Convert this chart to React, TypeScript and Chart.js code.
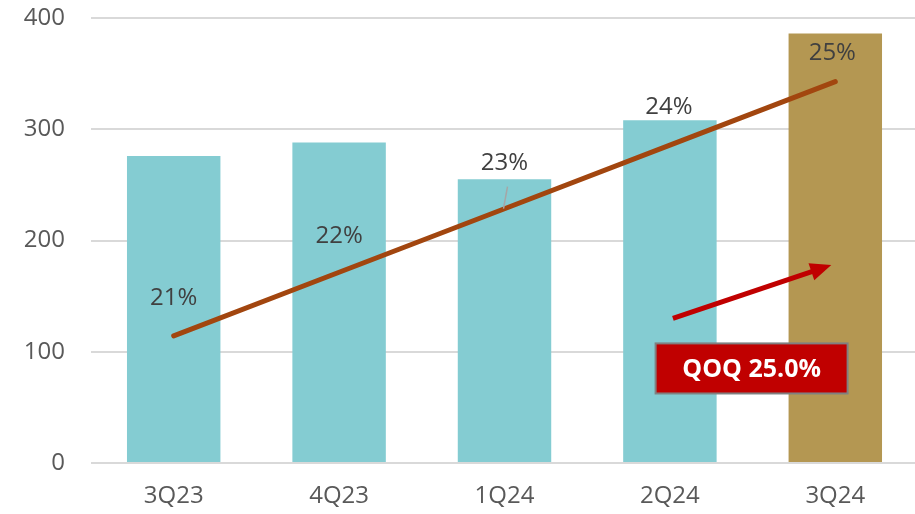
import React, { useEffect, useRef } from "react";
import { Chart, registerables } from "chart.js";

Chart.register(...registerables);

// ---- data ----
const categories = ["3Q23", "4Q23", "1Q24", "2Q24", "3Q24"];
const revenue = [276, 288, 255, 308, 386];
const marginPct = [21, 22, 23, 24, 25];
const pctLabels = ["21%", "22%", "23%", "24%", "25%"];
const yTickValues = [0, 100, 200, 300, 400];
const qoqText = "QOQ 25.0%";

// ---- style ----
const TEAL = "#84CCD2";
const GOLD = "#B49752";
const BROWN = "#A2460F";
const RED = "#C00000";
const FONT = "'Open Sans', 'Noto Sans', sans-serif";
const labelOffsets: [number, number][] = [
  [0, -38],
  [0, -36],
  [0, -46],
  [-1, -38],
  [-3, -28],
];

const overlayPlugin = {
  id: "overlay",
  afterDatasetsDraw(chart: any) {
    const { ctx, scales } = chart;
    const x = scales.x;
    const y = scales.y;
    const meta = chart.getDatasetMeta(1);
    ctx.save();

    // percent labels
    ctx.font = `24px ${FONT}`;
    ctx.fillStyle = "#404040";
    ctx.textAlign = "center";
    ctx.textBaseline = "middle";
    meta.data.forEach((pt: any, i: number) => {
      const [dx, dy] = labelOffsets[i];
      ctx.fillText(pctLabels[i], pt.x + dx, pt.y + dy);
    });

    // leader line for 1Q24 label
    const p2 = meta.data[2];
    ctx.strokeStyle = "#A6A6A6";
    ctx.lineWidth = 1.5;
    ctx.beginPath();
    ctx.moveTo(p2.x + 3, p2.y - 22);
    ctx.lineTo(p2.x - 1, p2.y);
    ctx.stroke();

    // arrow
    const x0 = x.getPixelForValue(3) + 3;
    const y0 = y.getPixelForValue(130);
    const x1 = x.getPixelForValue(4) - 4;
    const y1 = y.getPixelForValue(178);
    const ang = Math.atan2(y1 - y0, x1 - x0);
    const headLen = 21;
    const headHalf = 9;
    const bx = x1 - headLen * Math.cos(ang);
    const by = y1 - headLen * Math.sin(ang);
    ctx.strokeStyle = RED;
    ctx.lineWidth = 5;
    ctx.lineCap = "butt";
    ctx.beginPath();
    ctx.moveTo(x0, y0);
    ctx.lineTo(bx + 2 * Math.cos(ang), by + 2 * Math.sin(ang));
    ctx.stroke();
    ctx.fillStyle = RED;
    ctx.beginPath();
    ctx.moveTo(x1, y1);
    ctx.lineTo(bx + headHalf * Math.sin(ang), by - headHalf * Math.cos(ang));
    ctx.lineTo(bx - headHalf * Math.sin(ang), by + headHalf * Math.cos(ang));
    ctx.closePath();
    ctx.fill();

    // QOQ box
    const cx = (x.getPixelForValue(3) + x.getPixelForValue(4)) / 2 - 1;
    const top = y.getPixelForValue(107.5);
    const bottom = y.getPixelForValue(62.5);
    const w = 192;
    ctx.fillStyle = RED;
    ctx.fillRect(cx - w / 2, top, w, bottom - top);
    ctx.strokeStyle = "#808080";
    ctx.lineWidth = 2;
    ctx.strokeRect(cx - w / 2, top, w, bottom - top);
    ctx.fillStyle = "#FFFFFF";
    ctx.font = `bold 25px ${FONT}`;
    ctx.fillText(qoqText, cx, (top + bottom) / 2 + 1);

    ctx.restore();
  },
};

export default function App() {
  const ref = useRef<HTMLCanvasElement | null>(null);

  useEffect(() => {
    document.body.style.margin = "0";
    document.body.style.overflow = "hidden";
    if (!ref.current) return;
    const chart = new Chart(ref.current, {
      type: "bar",
      data: {
        labels: categories,
        datasets: [
          {
            type: "bar",
            data: revenue,
            backgroundColor: revenue.map((_, i) => (i === revenue.length - 1 ? GOLD : TEAL)),
            barPercentage: 0.565,
            categoryPercentage: 1,
            order: 2,
            yAxisID: "y",
          },
          {
            type: "line",
            data: marginPct,
            borderColor: BROWN,
            borderWidth: 5,
            borderCapStyle: "round",
            pointRadius: 0,
            tension: 0,
            fill: false,
            order: 1,
            yAxisID: "y1",
          } as any,
        ],
      },
      options: {
        animation: false,
        responsive: true,
        maintainAspectRatio: false,
        layout: { padding: { top: 18, left: 0, right: 0, bottom: 0 } },
        plugins: { legend: { display: false }, tooltip: { enabled: false } },
        scales: {
          x: {
            offset: true,
            grid: { display: false, drawTicks: false },
            border: { display: false },
            ticks: {
              color: "#595959",
              font: { family: FONT, size: 24 },
              padding: 19,
            },
            afterFit: (s: any) => {
              s.height = 51;
              s.paddingLeft = 0;
              s.paddingRight = 0;
            },
          },
          y: {
            min: 0,
            max: 400,
            afterBuildTicks: (s: any) => {
              s.ticks = yTickValues.map((v) => ({ value: v }));
            },
            grid: { color: "#D9D9D9", lineWidth: 2, drawTicks: false },
            border: { display: false },
            ticks: {
              color: "#595959",
              font: { family: FONT, size: 24 },
              padding: 26,
            },
            afterFit: (s: any) => {
              s.width = 91;
              s.paddingTop = 0;
              s.paddingBottom = 0;
            },
          },
          y1: {
            display: false,
            min: 19,
            max: 26,
          },
        },
      },
      plugins: [overlayPlugin],
    });
    return () => chart.destroy();
  }, []);

  return (
    <div style={{ width: 915, height: 514, overflow: "hidden" }}>
      <div style={{ width: 918, height: 514, position: "relative" }}>
        <canvas ref={ref} />
      </div>
    </div>
  );
}
